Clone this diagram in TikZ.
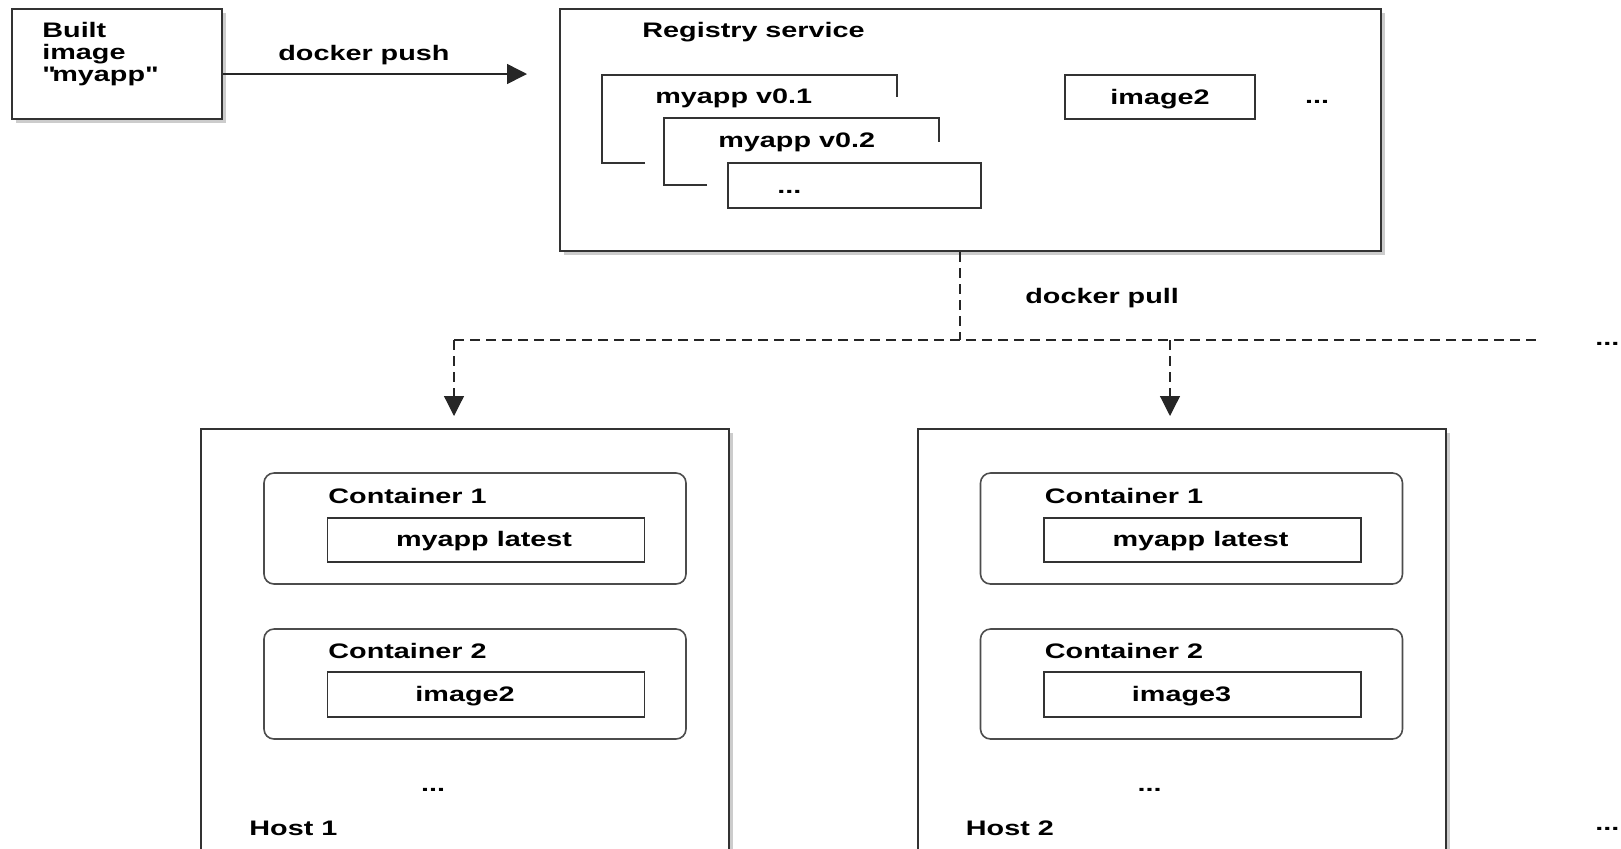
\documentclass[tikz,border=0pt]{standalone}
\usepackage{fontspec}
\setmainfont{Liberation Sans}[FakeStretch=1.37]
\usetikzlibrary{arrows.meta,shadows}

\begin{document}
\begin{tikzpicture}
[x=0.5pt, y=-0.5pt,
hostbox/.style={draw=black!80, line width=1pt, fill=white, inner sep=0pt, drop shadow={shadow xshift=2pt, shadow yshift=-2pt, opacity=0.4}},
container/.style={draw=black!70, line width=0.8pt, rounded corners=5pt, inner sep=0pt},
imgbox/.style={draw=black!80, line width=0.75pt, fill=white, inner sep=0pt},
bracket/.style={draw=black!80, line width=0.75pt},
lbl/.style={font=\fontsize{10.5}{11.15}\selectfont\bfseries, inner sep=0pt, anchor=base west},
centred/.style={lbl, anchor=base},
push/.style={-{Triangle[length=10pt,width=10pt]}, line width=0.75pt, draw=black!85},
pull/.style={dash pattern=on 5pt off 3pt, line width=0.6pt, draw=black!85},
pull arrow/.style={pull, -{Triangle[length=10pt,width=10pt]}}]
\useasboundingbox (0,0) rectangle (1621,848);
\node[hostbox, minimum width=105pt, minimum height=55pt] (built) at (117,64) {};
\node[lbl, anchor=north west, align=left] (builttxt) at (42,21.5) {Built\\image\\\textquotedbl myapp\textquotedbl};
\node[hostbox, minimum width=410.75pt, minimum height=121.25pt] (registry) at (970.25,129.75) {};
\coordinate (pushend) at (527,74);
\draw[push] (built.east |- pushend) -- (pushend);
\node[lbl] (pushtxt) at (278,60.5) {docker push};
\node[lbl] (regtxt) at (642,37) {Registry service};
\draw[bracket] (645,163) -- (602,163) -- (602,75) -- (897,75) -- (897,97);
\node[lbl] (v01) at (655,103) {myapp v0.1};
\draw[bracket] (707,185) -- (664,185) -- (664,118) -- (939,118) -- (939,142);
\node[lbl] (v02) at (718,147.5) {myapp v0.2};
\node[imgbox, minimum width=126.5pt, minimum height=22.5pt] (vmore) at (854.5,185.5) {};
\node[lbl] (vmoretxt) at (777,193) {...};
\node[imgbox, minimum width=95pt, minimum height=22pt] (img2) at (1160,97) {};
\node[centred] (img2txt) at (1160,104) {image2};
\node[centred] (regmore) at (1317,103) {...};
\coordinate (split) at (960,340);
\coordinate (west) at (454,340);
\coordinate (east) at (1540,340);
\coordinate (h1in) at (454,416);
\coordinate (h2in) at (1170,416);
\draw[pull] (registry.south -| split) -- (split);
\draw[pull] (west) -- (east);
\draw[pull arrow] (west) -- (h1in);
\draw[pull arrow] (h2in |- west) -- (h2in);
\node[lbl] (pulltxt) at (1025,303) {docker pull};
\node[lbl] (moretop) at (1595,345) {...};
\node[hostbox, minimum width=264pt, minimum height=220.5pt] (host1) at (465,649.5) {};
\node[container, minimum width=211pt, minimum height=55.5pt] (h1c1) at (475,528.5) {};
\node[lbl] (h1c1txt) at (328,503) {Container 1};
\node[imgbox, minimum width=158.5pt, minimum height=22pt] (h1i1) at (486,540) {};
\node[centred] (h1i1txt) at (484,546) {myapp latest};
\node[container, minimum width=211pt, minimum height=55pt] (h1c2) at (475,684) {};
\node[lbl] (h1c2txt) at (328,658) {Container 2};
\node[imgbox, minimum width=158.5pt, minimum height=22.5pt] (h1i2) at (486,694.5) {};
\node[centred] (h1i2txt) at (465,701) {image2};
\node[centred] (h1more) at (433,791) {...};
\node[lbl] (h1txt) at (249,835) {Host 1};
\node[hostbox, minimum width=264pt, minimum height=220.5pt] (host2) at (1181.5,649.5) {};
\node[container, minimum width=211pt, minimum height=55.5pt] (h2c1) at (1191.5,528.5) {};
\node[lbl] (h2c1txt) at (1044.5,503) {Container 1};
\node[imgbox, minimum width=158.5pt, minimum height=22pt] (h2i1) at (1202.5,540) {};
\node[centred] (h2i1txt) at (1200.5,546) {myapp latest};
\node[container, minimum width=211pt, minimum height=55pt] (h2c2) at (1191.5,684) {};
\node[lbl] (h2c2txt) at (1044.5,658) {Container 2};
\node[imgbox, minimum width=158.5pt, minimum height=22.5pt] (h2i2) at (1202.5,694.5) {};
\node[centred] (h2i2txt) at (1181.5,701) {image3};
\node[centred] (h2more) at (1149.5,791) {...};
\node[lbl] (h2txt) at (965.5,835) {Host 2};
\node[lbl] (morebot) at (1595,830) {...};
\end{tikzpicture}
\end{document}
